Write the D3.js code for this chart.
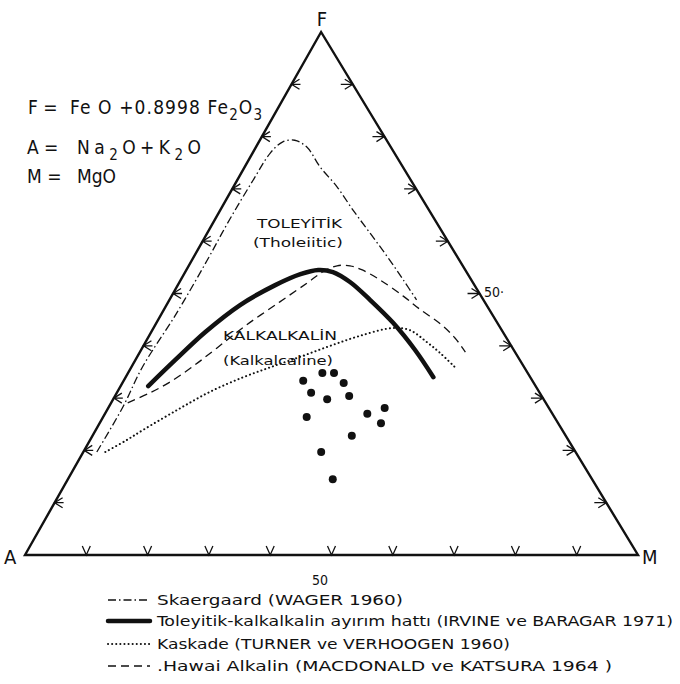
<!DOCTYPE html>
<html>
<head>
<meta charset="utf-8">
<script src="https://cdn.jsdelivr.net/npm/d3@7"></script>
<style>
  body { margin: 0; background: #fff; }
  text { font-family: "DejaVu Sans Condensed", "DejaVu Sans", sans-serif; fill: #111; }
</style>
</head>
<body>
<svg width="680" height="684"></svg>
<script>
// values are [F, M] in percent, A = 100 - F - M
var tickValues = [10, 20, 30, 40, 50, 60, 70, 80, 90];

var skaergaard = [[19.7, 2.2], [28.3, 2.3], [35.9, 1.8], [46.3, 2.4], [56.4, 2.5], [64.1, 2.4],
                  [71.7, 2.6], [76.9, 2.9], [79.0, 3.9], [79.3, 5.7], [78.0, 8.3], [74.2, 12.3],
                  [70.4, 16.9], [66.0, 21.6], [61.6, 26.5], [57.0, 31.6], [52.6, 36.3], [48.8, 40.3]];

var irvineBaragar = [[32.3, 4.5], [37.3, 6.5], [42.6, 8.8], [47.8, 12.0], [51.6, 15.9], [53.7, 19.0],
                     [54.5, 21.5], [54.1, 24.1], [52.2, 27.8], [48.8, 32.7], [44.4, 38.6],
                     [39.2, 44.7], [34.0, 50.2]];

var kaskade = [[19.7, 3.6], [21.8, 5.8], [23.9, 7.7], [27.7, 11.4], [31.2, 15.1], [34.0, 19.2],
               [35.9, 22.7], [37.9, 26.6], [40.0, 30.5], [41.9, 34.4], [43.4, 39.0], [43.0, 42.0],
               [40.7, 45.9], [38.6, 49.1], [35.9, 52.8]];

var hawaii = [[29.1, 2.7], [31.0, 5.4], [33.1, 7.7], [36.1, 10.0], [39.6, 12.2], [44.0, 14.9],
              [48.4, 18.2], [52.0, 20.9], [54.1, 22.4], [55.3, 24.2], [55.3, 26.3], [54.5, 28.7],
              [52.6, 32.5], [49.5, 37.8], [47.0, 41.7], [44.2, 46.4], [41.5, 50.1], [38.8, 53.1]];

var samples = [[33.3, 29.3], [34.8, 31.7], [34.8, 33.6], [32.9, 36.1], [31.0, 31.7], [29.8, 34.9],
               [30.4, 38.2], [26.4, 33.2], [27.0, 42.8], [28.1, 45.1], [25.2, 45.9], [22.8, 42.3],
               [19.7, 38.8], [14.5, 43.2]];

var legendLabels = ['Skaergaard (WAGER 1960)',
                    'Toleyitik-kalkalkalin ayırım hattı (IRVINE ve BARAGAR 1971)',
                    'Kaskade (TURNER ve VERHOOGEN 1960)',
                    '.Hawai Alkalin (MACDONALD ve KATSURA 1964 )'];

var svg = d3.select('svg');

var yScale = d3.scaleLinear().domain([0, 100]).range([555, 32]);
var xScale = d3.scaleLinear().domain([0, 100]).range([25, 638]);
var apexShift = 0.483; // the apex in the scan sits a bit left of the base middle

var pos = function(d) { return [xScale(d[1] + d[0] * apexShift), yScale(d[0])]; };

var line = d3.line().x(function(d){ return pos(d)[0]; }).y(function(d){ return pos(d)[1]; })
             .curve(d3.curveCatmullRom.alpha(0.5));

// triangle
var corners = [[0, 0], [100, 0], [0, 100]];
svg.append('path')
  .attr('d', 'M' + corners.map(pos).join('L') + 'Z')
  .attr('fill', 'none').attr('stroke', '#111').attr('stroke-width', 2.4)
  .attr('stroke-linejoin', 'miter');

// ticks
var tickG = svg.append('g').attr('stroke', '#111').attr('stroke-width', 1.3).attr('fill', 'none');
tickValues.forEach(function(t) {
  var b = pos([0, t]);
  tickG.append('path').attr('d', 'M' + (b[0] - 4) + ',' + (b[1] - 9) + 'L' + b[0] + ',' + b[1] + 'L' + (b[0] + 4) + ',' + (b[1] - 9));
  var l = pos([t, 0]);
  tickG.append('path').attr('d', 'M' + (l[0] + 8) + ',' + (l[1] - 5) + 'L' + l[0] + ',' + l[1] + 'L' + (l[0] + 8) + ',' + (l[1] + 5) + 'M' + l[0] + ',' + l[1] + 'L' + (l[0] + 9) + ',' + l[1]);
  var r = pos([100 - t, t]);
  tickG.append('path').attr('d', 'M' + (r[0] - 8) + ',' + (r[1] - 5) + 'L' + r[0] + ',' + r[1] + 'L' + (r[0] - 8) + ',' + (r[1] + 5) + 'M' + r[0] + ',' + r[1] + 'L' + (r[0] - 12) + ',' + r[1]);
});

// curves
var styles = [
  {data: skaergaard, width: 1.3, dash: '8,3,1.5,3', cap: 'butt'},
  {data: irvineBaragar, width: 4.5, dash: null, cap: 'round'},
  {data: kaskade, width: 2, dash: '0.1,4', cap: 'round'},
  {data: hawaii, width: 1.3, dash: '8,5', cap: 'butt'}
];
styles.forEach(function(s) {
  svg.append('path').datum(s.data).attr('d', line)
    .attr('fill', 'none').attr('stroke', '#111')
    .attr('stroke-width', s.width).attr('stroke-linecap', s.cap)
    .attr('stroke-dasharray', s.dash);
});

// sample points
svg.append('g').selectAll('circle').data(samples).join('circle')
  .attr('cx', function(d){ return pos(d)[0]; })
  .attr('cy', function(d){ return pos(d)[1]; })
  .attr('r', 4).attr('fill', '#111');

// corner + axis labels
svg.append('text').attr('x', 322).attr('y', 26).attr('text-anchor', 'middle').attr('font-size', 20).text('F');
svg.append('text').attr('x', 4).attr('y', 564).attr('font-size', 20).text('A');
svg.append('text').attr('x', 642).attr('y', 564).attr('font-size', 20).text('M');
svg.append('text').attr('x', 320).attr('y', 585).attr('text-anchor', 'middle').attr('font-size', 14).text('50');
svg.append('text').attr('x', 484).attr('y', 297).attr('font-size', 14).text('50·');

// formula block
var formula = function(x, y, parts) {
  var t = svg.append('text').attr('x', x).attr('y', y).attr('font-size', 19);
  parts.forEach(function(p) {
    var s = t.append('tspan').text(p[0]);
    if (p[1]) s.attr('dy', 6).attr('font-size', 15);
    if (p[2]) s.attr('dy', -6);
  });
  return t;
};
formula(28, 114, [['F =']]);
formula(70, 114, [['Fe O +0.8998 Fe'], ['2', true], ['O', false, true], ['3', true]]).attr('textLength', 192);
formula(27, 154, [['A =']]);
formula(77, 154, [['Na'], ['2', true], ['O+K', false, true], ['2', true], ['O', false, true]]).attr('textLength', 124);
formula(27, 183, [['M =']]);
formula(77, 183, [['MgO']]);

// field labels
var label = function(x, y, txt, w) {
  svg.append('text').attr('x', x).attr('y', y).attr('font-size', 13)
    .attr('textLength', w).attr('lengthAdjust', 'spacingAndGlyphs').text(txt);
};
label(257, 228, 'TOLEYİTİK', 85);
label(253, 247, '(Tholeiitic)', 90);
label(223, 340, 'KALKALKALİN', 114);
label(223, 365, '(Kalkalcaline)', 110);

// legend
var legendY = [600, 621, 644, 666];
var legendW = [246, 516, 353, 455];
legendLabels.forEach(function(txt, i) {
  var s = styles[i];
  svg.append('line').attr('x1', 108).attr('x2', 150).attr('y1', legendY[i]).attr('y2', legendY[i])
    .attr('stroke', '#111').attr('stroke-width', s.width).attr('stroke-linecap', s.cap)
    .attr('stroke-dasharray', s.dash);
  svg.append('text').attr('x', 157).attr('y', legendY[i] + 5).attr('font-size', 14.5)
    .attr('textLength', legendW[i]).attr('lengthAdjust', 'spacingAndGlyphs').text(txt);
});
</script>
</body>
</html>
